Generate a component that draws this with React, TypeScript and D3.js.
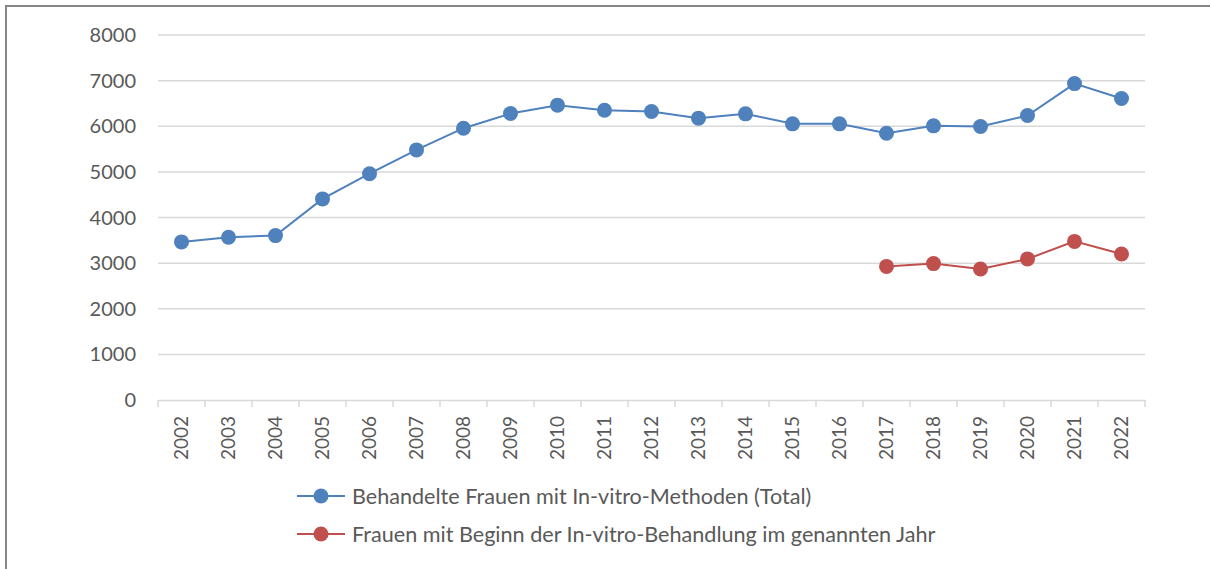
import { useEffect, useRef } from 'react'
import * as d3 from 'd3'

// Jahre und Werte
const years: string[] = [
  '2002', '2003', '2004', '2005', '2006', '2007', '2008', '2009', '2010', '2011', '2012',
  '2013', '2014', '2015', '2016', '2017', '2018', '2019', '2020', '2021', '2022',
]

const totalWomen: number[] = [
  3465, 3568, 3603, 4408, 4960, 5482, 5957, 6279, 6462, 6350, 6323,
  6177, 6272, 6053, 6053, 5848, 6009, 5994, 6235, 6935, 6608,
]

const startYears: string[] = ['2017', '2018', '2019', '2020', '2021', '2022']
const newWomen: number[] = [2928, 2990, 2870, 3092, 3476, 3201]

const yTicks: number[] = [0, 1000, 2000, 3000, 4000, 5000, 6000, 7000, 8000]

const seriesNames: string[] = [
  'Behandelte Frauen mit In-vitro-Methoden (Total)',
  'Frauen mit Beginn der In-vitro-Behandlung im genannten Jahr',
]

const BLUE = '#4f81bd'
const RED = '#c0504d'
const FONT = 'Lato, "Open Sans", sans-serif'

export default function App() {
  const svgRef = useRef<SVGSVGElement>(null)
  const width = 1210
  const height = 569

  useEffect(() => {
    if (!svgRef.current) return
    const svg = d3.select(svgRef.current)
    svg.selectAll('*').remove()

    const margin = { top: 35, right: 65, bottom: 169, left: 158 }

    // Rahmen
    svg.append('rect')
      .attr('x', 6)
      .attr('y', 6)
      .attr('width', width + 20)
      .attr('height', height + 20)
      .attr('fill', '#fff')
      .attr('stroke', '#868686')
      .attr('stroke-width', 2)

    const x = d3.scaleBand<string>()
      .domain(years)
      .range([margin.left, width - margin.right])

    const y = d3.scaleLinear()
      .domain([0, 8000])
      .range([height - margin.bottom, margin.top])

    // Gitterlinien
    svg.append('g')
      .selectAll('line')
      .data(yTicks.filter((t) => t > 0))
      .enter()
      .append('line')
      .attr('x1', margin.left)
      .attr('x2', width - margin.right)
      .attr('y1', (d) => y(d))
      .attr('y2', (d) => y(d))
      .attr('stroke', '#d9d9d9')
      .attr('stroke-width', 1.5)

    // Y-Achse (Beschriftung)
    svg.append('g')
      .selectAll('text')
      .data(yTicks)
      .enter()
      .append('text')
      .attr('x', 136)
      .attr('y', (d) => y(d))
      .attr('dy', '0.35em')
      .attr('text-anchor', 'end')
      .attr('fill', '#595959')
      .style('font-family', FONT)
      .style('font-size', '20px')
      .text((d) => String(d))

    // X-Achse
    const xAxis = svg.append('g')
      .attr('transform', `translate(0,${y(0)})`)
      .call(
        d3.axisBottom(x)
          .tickSize(0)
          .tickPadding(0)
          .tickFormat(() => '')
      )
    xAxis.select('.domain').attr('stroke', '#d9d9d9').attr('stroke-width', 1.5)

    const bounds = [...years.map((yr) => x(yr) as number), width - margin.right]
    svg.append('g')
      .selectAll('line')
      .data(bounds)
      .enter()
      .append('line')
      .attr('x1', (d) => d)
      .attr('x2', (d) => d)
      .attr('y1', y(0))
      .attr('y2', y(0) + 7)
      .attr('stroke', '#d9d9d9')
      .attr('stroke-width', 1.5)

    svg.append('g')
      .selectAll('text')
      .data(years)
      .enter()
      .append('text')
      .attr('transform', (d) => `translate(${(x(d) as number) + x.bandwidth() / 2},${y(0) + 16}) rotate(-90)`)
      .attr('dy', '0.35em')
      .attr('text-anchor', 'end')
      .attr('fill', '#595959')
      .style('font-family', FONT)
      .style('font-size', '19px')
      .text((d) => d)

    const cx = (yr: string) => (x(yr) as number) + x.bandwidth() / 2

    const line = d3.line<[string, number]>()
      .x((d) => cx(d[0]))
      .y((d) => y(d[1]))

    const series: { data: [string, number][]; color: string }[] = [
      { data: years.map((yr, i) => [yr, totalWomen[i]]), color: BLUE },
      { data: startYears.map((yr, i) => [yr, newWomen[i]]), color: RED },
    ]

    series.forEach((s) => {
      svg.append('path')
        .datum(s.data)
        .attr('fill', 'none')
        .attr('stroke', s.color)
        .attr('stroke-width', 2)
        .attr('d', line)

      svg.append('g')
        .selectAll('circle')
        .data(s.data)
        .enter()
        .append('circle')
        .attr('cx', (d) => cx(d[0]))
        .attr('cy', (d) => y(d[1]))
        .attr('r', 7.5)
        .attr('fill', s.color)
    })

    // Legende
    const legend = svg.append('g')
    seriesNames.forEach((name, i) => {
      const ly = 496 + i * 38
      const color = i === 0 ? BLUE : RED
      legend.append('line')
        .attr('x1', 297)
        .attr('x2', 345)
        .attr('y1', ly)
        .attr('y2', ly)
        .attr('stroke', color)
        .attr('stroke-width', 2)
      legend.append('circle')
        .attr('cx', 321)
        .attr('cy', ly)
        .attr('r', 7.5)
        .attr('fill', color)
      legend.append('text')
        .attr('x', 352)
        .attr('y', ly)
        .attr('dy', '0.35em')
        .attr('fill', '#595959')
        .style('font-family', FONT)
        .style('font-size', '21.6px')
        .text(name)
    })
  }, [])

  return (
    <div style={{ position: 'absolute', left: 0, top: 0, width, height, overflow: 'hidden', background: '#fff' }}>
      <svg ref={svgRef} width={width} height={height} />
    </div>
  )
}
